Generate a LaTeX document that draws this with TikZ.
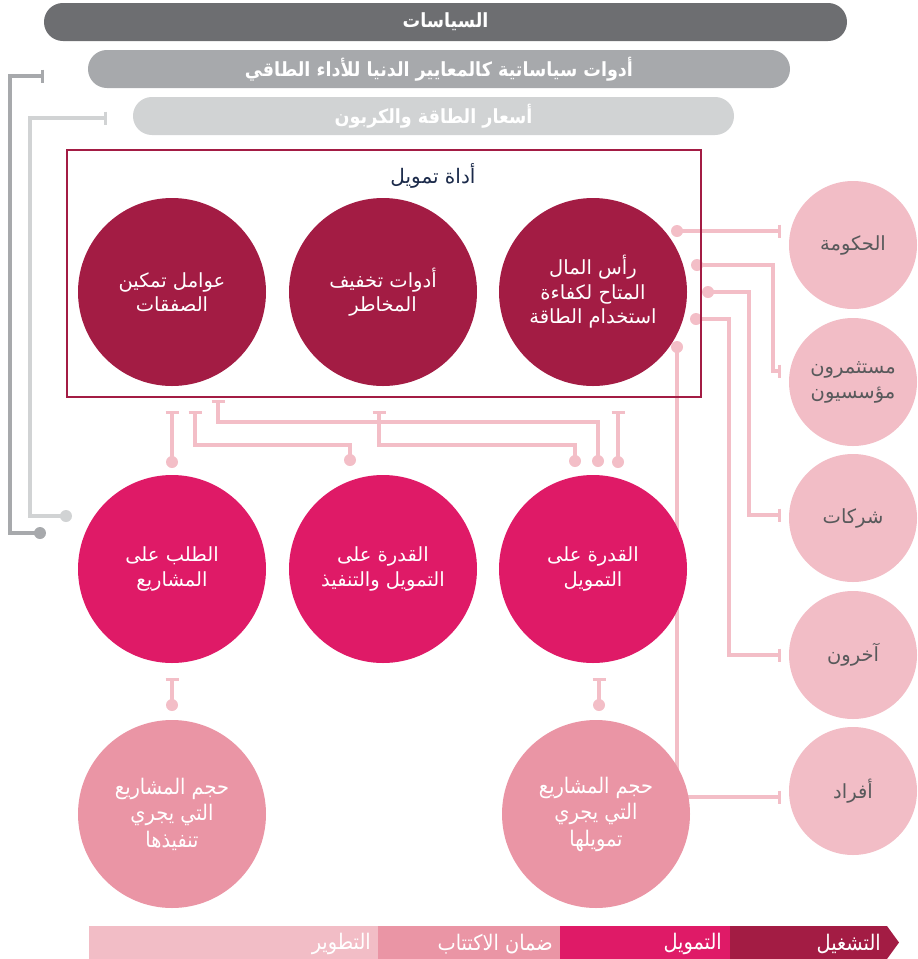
\documentclass[tikz,border=0pt]{standalone}
\usepackage{fontspec}
\newfontfamily\arabicfont[Script=Arabic]{DejaVu Sans}
\newfontfamily\arabiccond[Script=Arabic]{DejaVu Sans Condensed}
\TeXXeTstate=1
\newcommand\artx[1]{\beginR #1\endR}
\usetikzlibrary{arrows.meta}
\definecolor{dgrey}{HTML}{6D6E71}
\definecolor{mgrey}{HTML}{A7A9AC}
\definecolor{lgrey}{HTML}{D1D3D4}
\definecolor{dred}{HTML}{A31C44}
\definecolor{mag}{HTML}{DF1A67}
\definecolor{bpink}{HTML}{EA95A5}
\definecolor{lpink}{HTML}{F2BDC6}
\definecolor{cpink}{HTML}{F3BEC7}
\definecolor{tgrey}{HTML}{58595B}
\definecolor{navy}{HTML}{1B2A4A}
\tikzset{
  polbar/.style={rounded corners=18.9pt, minimum height=38pt, inner sep=0pt, text=white,
    font=\arabiccond\bfseries\fontsize{19.5}{22}\selectfont},
  bigc/.style={circle, minimum size=188pt, inner sep=0pt, align=center, text=white,
    font=\arabicfont\fontsize{19.5}{24.5}\selectfont},
  topc/.style={bigc, fill=dred},
  midc/.style={bigc, fill=mag},
  botc/.style={bigc, fill=bpink, font=\arabiccond\fontsize{21.5}{26.5}\selectfont},
  sidec/.style={circle, minimum size=128pt, inner sep=0pt, fill=lpink, text=tgrey, align=center,
    font=\arabicfont\fontsize{19.5}{25}\selectfont},
  pline/.style={draw=cpink, line width=3.6pt},
  gline/.style={line width=3.6pt},
  tbar/.style={{Bar[width=13pt,line width=2.6pt]}-},
  bart/.style={-{Bar[width=13pt,line width=2.6pt]}},
  legseg/.style={inner sep=0pt, text=white, font=\arabiccond\fontsize{21.5}{24}\selectfont, anchor=east}
}
\begin{document}
\begin{tikzpicture}[x=1pt,y=-1pt]
\useasboundingbox (0,0) rectangle (918,959);

% policy bars
\node[polbar, fill=dgrey, minimum width=803pt] (pol) at (445.5,22) {\artx{السياسات}};
\node[polbar, fill=mgrey, minimum width=702pt] (mep) at (439,69) {\artx{أدوات سياساتية كالمعايير الدنيا للأداء الطاقي}};
\node[polbar, fill=lgrey, minimum width=601pt] (ecp) at (433.5,116) {\artx{أسعار الطاقة والكربون}};

% coordinates
\coordinate (g1t) at (44,76);   \coordinate (g1d) at (40,533);
\coordinate (g2t) at (107,118); \coordinate (g2d) at (66,516);
\coordinate (aT) at (172,411); \coordinate (aD) at (172,462);
\coordinate (bT) at (195,411); \coordinate (bD) at (350,460);
\coordinate (cT) at (218,400); \coordinate (cD) at (598,461);
\coordinate (dT) at (379,411); \coordinate (dD) at (575,461);
\coordinate (eT) at (618,411); \coordinate (eD) at (618,462);
\coordinate (fT) at (172,678); \coordinate (fD) at (172,705);
\coordinate (hT) at (599,678); \coordinate (hD) at (599,705);
\coordinate (govD) at (677,231); \coordinate (govT) at (781,231);
\coordinate (invD) at (697,265); \coordinate (invT) at (781,371);
\coordinate (comD) at (708,292); \coordinate (comT) at (781,515);
\coordinate (othD) at (696,319); \coordinate (othT) at (781,655);
\coordinate (indD) at (677,347); \coordinate (indT) at (781,797);

% grey connectors
\draw[gline, draw=mgrey, tbar] (g1t) -| (10,533) -- (g1d);
\fill[mgrey] (g1d) circle[radius=6];
\draw[gline, draw=lgrey, tbar] (g2t) -| (30,516) -- (g2d);
\fill[lgrey] (g2d) circle[radius=6];

% pink connectors between rows
\draw[pline, tbar] (aT) -- (aD);
\draw[pline, tbar] (bT) |- (350,445) -- (bD);
\draw[pline, tbar] (cT) |- (598,422) -- (cD);
\draw[pline, tbar] (dT) |- (575,445) -- (dD);
\draw[pline, tbar] (eT) -- (eD);
\draw[pline, tbar] (fT) -- (fD);
\draw[pline, tbar] (hT) -- (hD);
\foreach \p in {aD,bD,cD,dD,eD,fD,hD} \fill[cpink] (\p) circle[radius=6];

% right connectors
\draw[pline, bart] (govD) -- (govT);
\draw[pline, bart] (invD) -| (773,371) -- (invT);
\draw[pline, bart] (comD) -| (749,515) -- (comT);
\draw[pline, bart] (othD) -| (729,655) -- (othT);
\draw[pline, bart] (indD) |- (indT);
\foreach \p in {govD,invD,comD,othD,indD} \fill[cpink] (\p) circle[radius=6];

% financing box
\draw[dred, line width=2pt] (67,150) rectangle (701,397);
\node[text=navy, font=\arabicfont\fontsize{20}{22}\selectfont] (fin) at (433,176) {\artx{أداة تمويل}};

% top circles
\node[topc] (t1) at (172,292) {\artx{عوامل تمكين}\\\artx{الصفقات}};
\node[topc] (t2) at (383,292) {\artx{أدوات تخفيف}\\\artx{المخاطر}};
\node[topc] (t3) at (593,292) {\artx{رأس المال}\\\artx{المتاح لكفاءة}\\\artx{استخدام الطاقة}};

% middle circles
\node[midc] (m1) at (172,569) {\artx{الطلب على}\\\artx{المشاريع}};
\node[midc] (m2) at (383,569) {\artx{القدرة على}\\\artx{التمويل والتنفيذ}};
\node[midc] (m3) at (593,569) {\artx{القدرة على}\\\artx{التمويل}};

% bottom circles
\node[botc] (b1) at (172,814) {\artx{حجم المشاريع}\\\artx{التي يجري}\\\artx{تنفيذها}};
\node[botc] (b2) at (596,814) {\artx{حجم المشاريع}\\\artx{التي يجري}\\\artx{تمويلها}};

% side circles
\node[sidec] (r1) at (853,245) {\artx{الحكومة}};
\node[sidec] (r2) at (853,382) {\artx{مستثمرون}\\\artx{مؤسسيون}};
\node[sidec] (r3) at (853,518) {\artx{شركات}};
\node[sidec] (r4) at (853,655) {\artx{آخرون}};
\node[sidec] (r5) at (853,791) {\artx{أفراد}};

% legend bar
\fill[lpink] (89,926) rectangle (378,959);
\fill[bpink] (378,926) rectangle (560,959);
\fill[mag] (560,926) rectangle (730,959);
\fill[dred] (730,926) -- (887,926) -- (899,942.5) -- (887,959) -- (730,959) -- cycle;
\node[legseg] (l1) at (371,944) {\artx{التطوير}};
\node[legseg] (l2) at (553,944) {\artx{ضمان الاكتتاب}};
\node[legseg] (l3) at (722,944) {\artx{التمويل}};
\node[legseg] (l4) at (881,944) {\artx{التشغيل}};
\end{tikzpicture}
\end{document}
